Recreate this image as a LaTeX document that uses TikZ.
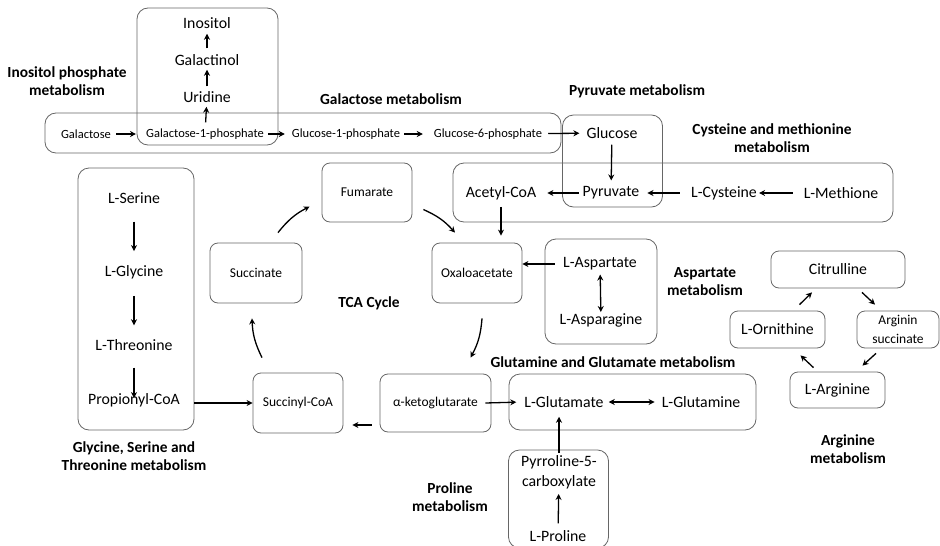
\documentclass[tikz,border=0pt]{standalone}
\usepackage{fontspec}
\setmainfont{Carlito}
\usetikzlibrary{arrows.meta}

\begin{document}
\begin{tikzpicture}[x=1pt,y=-1pt,
  grp/.style={draw=black!60,line width=0.8pt,rounded corners=11pt,inner sep=0pt},
  cbox/.style={draw=black!60,line width=0.8pt,rounded corners=8pt,inner sep=2pt,align=center,font=\fontsize{13.5}{16}\selectfont},
  big/.style={font=\fontsize{15.8}{20}\selectfont,inner sep=2pt,align=center},
  sml/.style={font=\fontsize{12.5}{15}\selectfont,inner sep=2pt},
  lbl/.style={font=\fontsize{15.4}{18}\selectfont\bfseries,align=center},
  arr/.style={-{Stealth[length=6pt,width=6pt]},line width=1.3pt},
  darr/.style={{Stealth[length=6pt,width=6pt]}-{Stealth[length=6pt,width=6pt]},line width=1.3pt}]
\useasboundingbox (0,0) rectangle (940,546);
\clip (0,0) rectangle (940,546);

\node[grp,minimum width=141pt,minimum height=137pt] (inobox) at (207.5,76.5) {};
\node[grp,minimum width=516pt,minimum height=40pt] (galbox) at (303,133) {};
\node[grp,minimum width=100pt,minimum height=92pt] (pyrbox) at (612.5,161) {};
\node[grp,minimum width=440pt,minimum height=59pt] (cysbox) at (673,192.5) {};
\node[grp,minimum width=116pt,minimum height=262pt] (serbox) at (136,299) {};
\node[grp,minimum width=112pt,minimum height=105pt] (aspbox) at (601,291.5) {};
\node[grp,minimum width=247pt,minimum height=56pt] (glubox) at (632.5,402) {};
\node[grp,minimum width=100pt,minimum height=98pt] (probox) at (558.5,499) {};

\node[big] (ino) at (207,23) {Inositol};
\node[big] (galol) at (207,60) {Galactinol};
\node[big] (uri) at (207,97) {Uridine};
\node[sml] (gal1p) at (205,134) {Galactose-1-phosphate};
\node[sml] (galac) at (86,134) {Galactose};
\node[sml] (glc1p) at (346,134) {Glucose-1-phosphate};
\node[sml] (glc6p) at (488,134) {Glucose-6-phosphate};
\node[big] (glc) at (612,133) {Glucose};
\node[big] (pyr) at (611,193) {Pyruvate};
\node[big] (acoa) at (501,193) {Acetyl-CoA};
\node[big] (cys) at (724,193) {L-Cysteine};
\node[big] (met) at (841,193) {L-Methione};

\node[big] (ser) at (134,198) {L-Serine};
\node[big] (gly) at (134,272) {L-Glycine};
\node[big] (thr) at (134,345) {L-Threonine};
\node[big] (prop) at (134,400) {Propionyl-CoA};

\node[cbox,minimum width=90pt,minimum height=59pt] (fum) at (367,192.5) {Fumarate};
\node[cbox,minimum width=92pt,minimum height=60pt] (suc) at (256,273) {Succinate};
\node[cbox,minimum width=90pt,minimum height=60pt] (oaa) at (477,273) {Oxaloacetate};
\node[cbox,minimum width=90pt,minimum height=60pt] (sca) at (298,403) {Succinyl-CoA};
\node[cbox,minimum width=111pt,minimum height=58pt] (akg) at (435.5,403) {α-ketoglutarate};

\node[big] (asp) at (600,264) {L-Aspartate};
\node[big] (asn) at (601,320) {L-Asparagine};
\node[big] (glu) at (564,402) {L-Glutamate};
\node[big] (gln) at (701,402) {L-Glutamine};
\node[big] (p5c) at (559,472) {Pyrroline-5-\\carboxylate};
\node[big] (pro) at (558,536) {L-Proline};

\node[cbox,font=\fontsize{15.8}{18}\selectfont,minimum width=134pt,minimum height=37pt] (cit) at (838,269.5) {Citrulline};
\node[cbox,font=\fontsize{15.8}{18}\selectfont,minimum width=95pt,minimum height=37pt] (orn) at (777.5,329.5) {L-Ornithine};
\node[cbox,font=\fontsize{13.5}{19}\selectfont,minimum width=82pt,minimum height=37pt] (asuc) at (898,329.5) {Arginin\\succinate};
\node[cbox,font=\fontsize{15.8}{18}\selectfont,minimum width=95pt,minimum height=36pt] (arg) at (837.5,390) {L-Arginine};

\node[lbl] (inolbl) at (67,81) {Inositol phosphate\\metabolism};
\node[lbl] (gallbl) at (391,99) {Galactose metabolism};
\node[lbl] (pyrlbl) at (637,91) {Pyruvate metabolism};
\node[lbl] (cyslbl) at (772,138) {Cysteine and methionine\\metabolism};
\node[lbl] (tcalbl) at (369,303) {TCA Cycle};
\node[lbl] (asplbl) at (705,282) {Aspartate\\metabolism};
\node[lbl] (glulbl) at (613,362) {Glutamine and Glutamate metabolism};
\node[lbl] (serlbl) at (134,456) {Glycine, Serine and\\Threonine metabolism};
\node[lbl] (prolbl) at (450,497) {Proline\\metabolism};
\node[lbl] (arglbl) at (848,449) {Arginine\\metabolism};

\draw[arr,shorten <=4pt,shorten >=2pt] (gal1p) -- (uri);
\draw[arr,shorten <=3pt,shorten >=2pt] (uri) -- (galol);
\draw[arr,shorten <=4pt,shorten >=3pt] (galol) -- (ino);
\draw[arr,shorten <=3pt,shorten >=8pt] (galac) -- (gal1p);
\draw[arr,shorten <=2pt,shorten >=5pt] (gal1p) -- (glc1p);
\draw[arr,shorten <=2pt,shorten >=9pt] (glc1p) -- (glc6p);
\draw[arr,shorten <=4pt,shorten >=5pt] (glc6p) -- (glc);
\draw[arr,shorten <=4pt,shorten >=4pt] (glc) -- (pyr);
\draw[arr,shorten <=2pt,shorten >=9pt] (pyr) -- (acoa);
\draw[arr,shorten <=9pt,shorten >=6pt] (cys) -- (pyr);
\draw[arr,shorten <=9pt] (met) -- (cys);
\draw[arr,shorten <=5pt,shorten >=7pt] (acoa.south) -- (acoa.south |- oaa.north);

\draw[arr,shorten <=16pt,shorten >=12pt] (ser) -- (gly);
\draw[arr,shorten <=15pt,shorten >=12pt] (gly) -- (thr);
\draw[arr,shorten <=15pt,shorten >=-7pt] (thr) -- (prop);
\draw[arr] (sca.west -| serbox.east) -- (sca.west);

\draw[arr] ([shift={(22,-10)}]suc.north) to[bend left=12] ([shift={(-12,14)}]fum.west);
\draw[arr] ([shift={(11,17)}]fum.east) to[bend left=12] ([shift={(-22,-10)}]oaa.north);
\draw[arr] ([shift={(5,15)}]oaa.south) to[bend left=12] ([shift={(35,-16)}]akg.north);
\draw[arr] ([shift={(-8,22)}]akg.west) -- ([shift={(9,22)}]sca.east);
\draw[arr] ([shift={(-36,-15)}]sca.north) to[bend left=12] ([shift={(-4,15)}]suc.south);

\draw[arr,shorten <=6pt] (asp.west) -- (asp.west -| oaa.east);
\draw[darr,shorten <=2pt,shorten >=-1pt] (asp) -- (asn);
\draw[arr,shorten >=6pt] ([xshift=-6pt]akg.east) -- (glu.west);
\draw[darr,shorten <=3pt,shorten >=5pt] (glu) -- (gln);
\draw[arr] (p5c.north) -- ([yshift=-7pt]p5c.north |- glu.south);
\draw[arr,shorten <=5pt,shorten >=3pt] (pro) -- (p5c);

\draw[arr] ([shift={(22,-6)}]orn.north) -- ([shift={(-26,4)}]cit.south);
\draw[arr] ([shift={(24,4)}]cit.south) -- ([shift={(-23,-6)}]asuc.north);
\draw[arr] ([shift={(-22,5)}]asuc.south) -- ([shift={(25,-6)}]arg.north);
\draw[arr] ([shift={(-24,-4)}]arg.north) -- ([shift={(23,7)}]orn.south);
\end{tikzpicture}
\end{document}
